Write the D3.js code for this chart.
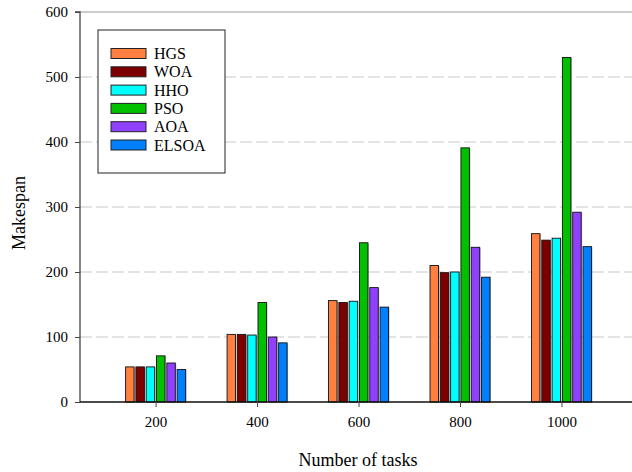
<!DOCTYPE html>
<html>
<head>
<meta charset="utf-8">
<script src="https://cdn.jsdelivr.net/npm/d3@7"></script>
<style>
  body { margin: 0; background: #fff; }
  svg, svg text { font-family: "Liberation Serif", "Times New Roman", serif; }
</style>
</head>
<body>
<svg id="chart" width="632" height="472"></svg>
<script>
// data
const tasks = [200, 400, 600, 800, 1000];
const algos = ['HGS', 'WOA', 'HHO', 'PSO', 'AOA', 'ELSOA'];
const HGS   = [54, 104, 156, 210, 259];
const WOA   = [54, 104, 153, 199, 249];
const HHO   = [54, 103, 155, 200, 252];
const PSO   = [71, 153, 245, 391, 530];
const AOA   = [60, 100, 176, 238, 292];
const ELSOA = [50, 91, 146, 192, 239];
const yTicks = [0, 100, 200, 300, 400, 500, 600];

const seriesVals = [HGS, WOA, HHO, PSO, AOA, ELSOA];
const colors = ['#ff8040', '#7d0000', '#00ffff', '#00c000', '#9040ff', '#0080ff'];

const svg = d3.select('#chart');
const plotL = 80, plotR = 632, plotT = 12, plotB = 402;

const x = d3.scaleLinear().domain([51, 1139]).range([plotL, plotR]);
const y = d3.scaleLinear().domain([0, 600]).range([plotB, plotT]);
const inner = d3.scaleBand().domain(algos).range([-30, 30]).paddingInner(0.18);

// grid lines
svg.append('g').selectAll('line')
    .data(yTicks.filter(d => d > 0 && d < 600))
    .enter().append('line')
    .attr('x1', plotL).attr('x2', plotR)
    .attr('y1', d => y(d)).attr('y2', d => y(d))
    .attr('stroke', '#c8c8c8')
    .attr('stroke-dasharray', '12,4');

// top frame line
svg.append('line')
    .attr('x1', plotL).attr('x2', plotR)
    .attr('y1', y(600)).attr('y2', y(600))
    .attr('stroke', '#999').attr('stroke-width', 1);

// bars
const rows = [];
seriesVals.forEach((vals, s) => {
    vals.forEach((v, i) => rows.push({ algo: algos[s], task: tasks[i], value: v, s: s }));
});

const bars = svg.append('g');
// soft shadow
bars.selectAll('rect.shadow')
    .data(rows).enter().append('rect')
    .attr('class', 'shadow')
    .attr('x', d => x(d.task) + inner(d.algo) + 1)
    .attr('y', d => y(d.value) + 0.5)
    .attr('width', inner.bandwidth())
    .attr('height', d => plotB - y(d.value))
    .attr('fill', '#888').attr('opacity', 0.6);

bars.selectAll('rect.bar')
    .data(rows).enter().append('rect')
    .attr('class', 'bar')
    .attr('x', d => x(d.task) + inner(d.algo))
    .attr('y', d => y(d.value))
    .attr('width', inner.bandwidth())
    .attr('height', d => plotB - y(d.value))
    .attr('fill', d => colors[d.s])
    .attr('stroke', '#111').attr('stroke-width', 0.9);

// axes
const yAxis = svg.append('g')
    .attr('transform', `translate(${plotL},0)`)
    .call(d3.axisLeft(y).tickValues(yTicks).tickSize(5).tickPadding(7));
const xAxis = svg.append('g')
    .attr('transform', `translate(0,${plotB})`)
    .call(d3.axisBottom(x).tickValues(tasks).tickFormat(d3.format('d')).tickSize(5).tickPadding(9));

[yAxis, xAxis].forEach(a => {
    a.attr('font-family', null).attr('font-size', null);
    a.select('.domain').attr('stroke', '#111').attr('stroke-width', 1.3);
    a.selectAll('.tick line').attr('stroke', '#444');
    a.selectAll('.tick text').attr('font-size', 15).attr('fill', '#000');
});
yAxis.select('.domain').attr('d', `M-5,${plotT}H0V${plotB}`).attr('stroke', '#444');
xAxis.select('.domain').attr('d', `M${plotL},0H${plotR}`);

// axis titles
svg.append('text')
    .attr('transform', `translate(25,${(plotT + plotB) / 2 + 6}) rotate(-90)`)
    .attr('text-anchor', 'middle')
    .attr('font-size', 18)
    .text('Makespan');

svg.append('text')
    .attr('x', 358).attr('y', 466)
    .attr('text-anchor', 'middle')
    .attr('font-size', 18)
    .text('Number of tasks');

// legend
const lg = svg.append('g').attr('transform', 'translate(98,30)');
lg.append('rect')
    .attr('width', 127).attr('height', 143)
    .attr('fill', '#fff').attr('stroke', '#222').attr('stroke-width', 1);
const item = lg.selectAll('g.item')
    .data(algos).enter().append('g')
    .attr('transform', (d, i) => `translate(13,${18.5 + i * 18.3})`);
item.append('rect')
    .attr('width', 35).attr('height', 10)
    .attr('fill', (d, i) => colors[i])
    .attr('stroke', '#222').attr('stroke-width', 1);
item.append('text')
    .attr('x', 43).attr('y', 10.5)
    .attr('font-size', 16)
    .text(d => d);
</script>
</body>
</html>
